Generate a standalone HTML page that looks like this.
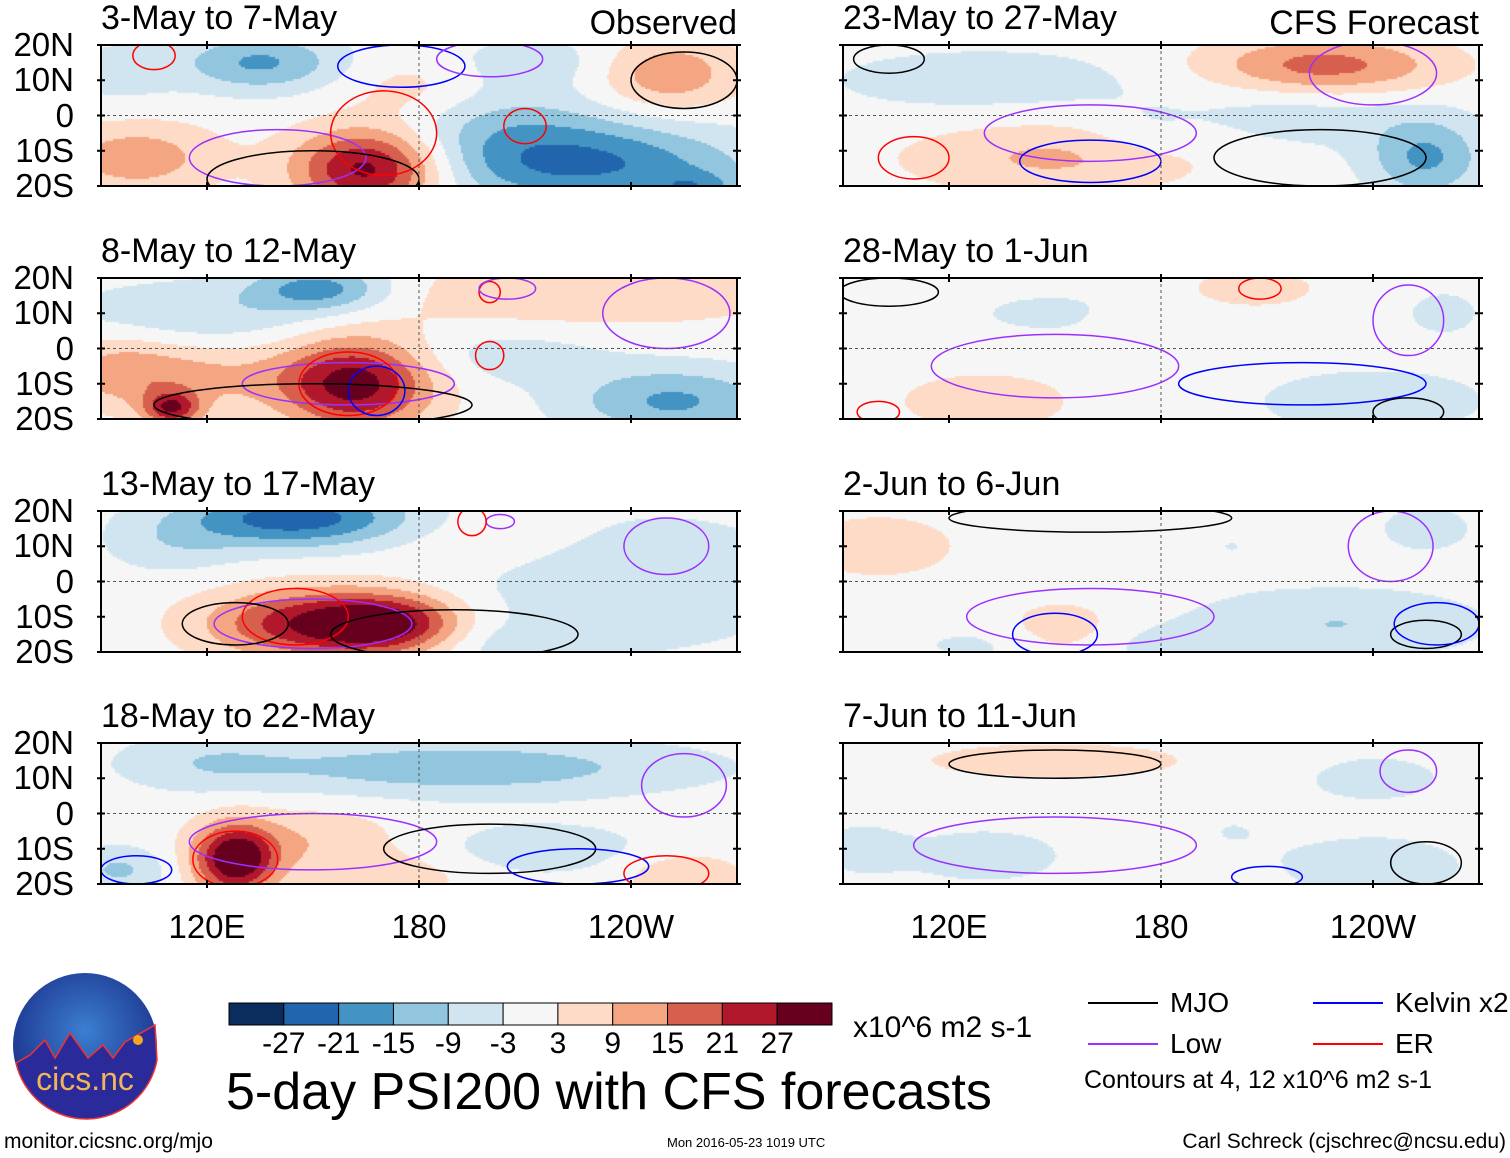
<!DOCTYPE html>
<html><head><meta charset="utf-8">
<style>
body{margin:0;background:#fff;width:1510px;height:1158px;overflow:hidden;position:relative;font-family:"Liberation Sans",sans-serif;}
.t{position:absolute;white-space:nowrap;color:#000;line-height:1;}
canvas{position:absolute;}
svg{position:absolute;left:0;top:0;}
</style></head><body>
<div id="root"></div>
<svg id="ov" width="1510" height="1158"></svg>
<script>
// ---- data ----
const levels=[-27,-21,-15,-9,-3,3,9,15,21,27];
const colors=["#0b2d5e","#2166ac","#4393c3","#92c5de","#d1e5f0","#f6f6f6","#fddbc7","#f4a582","#d6604d","#b2182b","#67001f"];
const titles=["3-May to 7-May","8-May to 12-May","13-May to 17-May","18-May to 22-May","23-May to 27-May","28-May to 1-Jun","2-Jun to 6-Jun","7-Jun to 11-Jun"];
const latTicks=["20N","10N","0","10S","20S"];
const latVals=[20,10,0,-10,-20];
const lonTicks=["120E","180","120W"];
const lonVals=[120,180,240];
// blobs: [lon, lat, amplitude, sigmaLon, sigmaLat]
const blobs0=[[166,-15,32,13,7],[100,-12,13,14,6],[135,15,-16,14,5],[225,-14,-22,28,7],[258,-21,-12,8,3],[250,12,15,12,6],[178,8,6,12,6],[215,15,-6,20,5],[205,-2,-8,20,6],[95,12,-5,10,6]];
const blobs1=[[162,-10,30,13,8],[110,-17,24,5,3],[112,-8,11,20,6],[152,17,-18,12,4],[120,10,-8,25,6],[222,15,7,40,6],[252,-15,-16,18,6],[205,-2,-6,18,5],[95,-5,6,10,6]];
const blobs2=[[145,18,-25,20,5],[150,-12,26,18,6],[172,-12,22,12,5],[240,0,-8,30,12],[200,12,4,20,6],[110,10,-6,12,5],[205,-18,-5,15,4]];
const blobs3=[[128,-13,34,7,6],[192,13,-13,40,5],[215,-10,-6,20,5],[175,-18,6,12,4],[255,-18,9,10,4],[95,-16,-10,8,4],[150,-8,8,15,6],[120,15,-6,15,5]];
const blobs4=[[226,14,18,20,5],[150,-12,10,25,6],[255,-12,-16,10,7],[130,10,-6,30,6],[220,0,-6,20,6],[175,-5,-4,10,5]];
const blobs5=[[130,-15,7,15,5],[206,17,8,10,3],[240,-15,-9,18,5],[175,5,4,8,5],[150,10,-4,20,5],[260,10,-4,10,6]];
const blobs6=[[100,10,6,15,6],[152,-15,10,10,5],[230,-12,-9,25,6],[150,-18,-6,25,4],[200,10,-3,10,5],[255,15,-5,10,5]];
const blobs7=[[150,15,5,30,4],[130,-12,-6,15,5],[240,-15,-8,15,5],[240,10,-5,15,5],[200,-5,-3,10,5],[95,-10,-5,8,5]];
// contours: [lon, lat, radiusLon, radiusLat, color]
const cont0=[[140,-12,25,8,"#9b30ff"],[170,-5,15,12,"#f00"],[210,-3,6,5,"#f00"],[175,14,18,6,"#00f"],[200,16,15,5,"#9b30ff"],[255,10,15,8,"#000"],[150,-18,30,8,"#000"],[105,17,6,4,"#f00"]];
const cont1=[[160,-10,30,6,"#9b30ff"],[160,-10,14,9,"#f00"],[168,-12,8,7,"#00f"],[200,-2,4,4,"#f00"],[200,16,3,3,"#f00"],[205,17,8,3,"#9b30ff"],[250,10,18,10,"#9b30ff"],[150,-16,45,6,"#000"]];
const cont2=[[150,-12,28,7,"#9b30ff"],[145,-10,15,8,"#f00"],[190,-15,35,7,"#000"],[203,17,4,2,"#9b30ff"],[195,17,4,4,"#f00"],[250,10,12,8,"#9b30ff"],[128,-12,15,6,"#000"]];
const cont3=[[128,-13,12,8,"#f00"],[150,-8,35,8,"#9b30ff"],[200,-10,30,7,"#000"],[225,-15,20,5,"#00f"],[250,-17,12,5,"#f00"],[100,-16,10,4,"#00f"],[255,8,12,9,"#9b30ff"]];
const cont4=[[160,-5,30,8,"#9b30ff"],[225,-12,30,8,"#000"],[160,-13,20,6,"#00f"],[240,12,18,9,"#9b30ff"],[110,-12,10,6,"#f00"],[103,16,10,4,"#000"]];
const cont5=[[150,-5,35,9,"#9b30ff"],[220,-10,35,6,"#00f"],[103,16,14,4,"#000"],[208,17,6,3,"#f00"],[250,8,10,10,"#9b30ff"],[250,-18,10,4,"#000"],[100,-18,6,3,"#f00"]];
const cont6=[[160,-10,35,8,"#9b30ff"],[150,-15,12,6,"#00f"],[160,18,40,4,"#000"],[255,-15,10,4,"#000"],[258,-12,12,6,"#00f"],[245,10,12,10,"#9b30ff"]];
const cont7=[[150,-9,40,8,"#9b30ff"],[150,14,30,4,"#000"],[255,-14,10,6,"#000"],[250,12,8,6,"#9b30ff"],[210,-18,10,3,"#00f"]];
const allBlobs=[blobs0,blobs1,blobs2,blobs3,blobs4,blobs5,blobs6,blobs7];
const allCont=[cont0,cont1,cont2,cont3,cont4,cont5,cont6,cont7];
// ---- layout ----
const PW=636,PH=141,LON0=90,LON1=270,SPREAD=1.15;
const xs=[101,843], ys=[45,278,511,743];
const NS="http://www.w3.org/2000/svg";
const ov=document.getElementById('ov');
const root=document.getElementById('root');
function sx(lon,x0){return x0+(lon-LON0)/(LON1-LON0)*PW;}
function sy(lat,y0){return y0+(20-lat)/40*PH;}
function colorFor(v){let i=0;while(i<levels.length&&v>levels[i])i++;return colors[i];}
function el(tag,attrs){const e=document.createElementNS(NS,tag);for(const k in attrs)e.setAttribute(k,attrs[k]);ov.appendChild(e);return e;}
function txt(s,x,y,size,name,align){const d=document.createElement('div');d.className='t';d.textContent=s;d.style.fontSize=size+'px';d.style.top=y+'px';
 if(align==='r'){d.style.right=(1510-x)+'px';}else if(align==='c'){d.style.left=x+'px';d.style.transform='translateX(-50%)';}else d.style.left=x+'px';
 
 
 root.appendChild(d);return d;}
for(let p=0;p<8;p++){
 const col=p<4?0:1,row=p%4,x0=xs[col],y0=ys[row];
 const cv=document.createElement('canvas');cv.width=PW;cv.height=PH;cv.style.left=x0+'px';cv.style.top=y0+'px';
 
 
 document.body.insertBefore(cv,ov);
 const ctx=cv.getContext('2d');const B=allBlobs[p];
 for(let py=0;py<PH;py+=2)for(let px=0;px<PW;px+=2){
  const lon=LON0+(px+1)/PW*(LON1-LON0),lat=20-(py+1)/PH*40;let v=0;
  for(const b of B){const dx=(lon-b[0])/(b[3]*SPREAD),dy=(lat-b[1])/(b[4]*SPREAD);v+=b[2]*Math.exp(-0.5*(dx*dx+dy*dy));}
  ctx.fillStyle=colorFor(v);ctx.fillRect(px,py,2,2);}
 for(const c of allCont[p]){
  const e=el('ellipse',{cx:sx(c[0],x0),cy:sy(c[1],y0),rx:c[2]/(LON1-LON0)*PW,ry:c[3]/40*PH,fill:'none',stroke:c[4],'stroke-width':1.5,'clip-path':'url(#cp'+p+')'});
  
  
 }
 const cp=el('clipPath',{id:'cp'+p});const r=document.createElementNS(NS,'rect');r.setAttribute('x',x0);r.setAttribute('y',y0);r.setAttribute('width',PW);r.setAttribute('height',PH);cp.appendChild(r);
 el('line',{x1:x0,x2:x0+PW,y1:sy(0,y0),y2:sy(0,y0),stroke:'#555','stroke-dasharray':'3,3','stroke-width':1});
 el('line',{x1:sx(180,x0),x2:sx(180,x0),y1:y0,y2:y0+PH,stroke:'#555','stroke-dasharray':'3,3','stroke-width':1});
 const fr=el('rect',{x:x0,y:y0,width:PW,height:PH,fill:'none',stroke:'#000','stroke-width':2});
 
 
 for(const lv of lonVals){const X=sx(lv,x0);el('line',{x1:X,x2:X,y1:y0-4,y2:y0+4,stroke:'#000','stroke-width':2});el('line',{x1:X,x2:X,y1:y0+PH-4,y2:y0+PH+4,stroke:'#000','stroke-width':2});}
 for(const lt of latVals){const Y=sy(lt,y0);el('line',{x1:x0-4,x2:x0+4,y1:Y,y2:Y,stroke:'#000','stroke-width':2});el('line',{x1:x0+PW-4,x2:x0+PW+4,y1:Y,y2:Y,stroke:'#000','stroke-width':2});}
 txt(titles[p],x0,y0-44,34,'panel-title-'+(p+1));
 if(col===0){latTicks.forEach((s,i)=>txt(s,74,sy(latVals[i],y0)-17,33,'lat-label','r'));}
}
txt('Observed',737,6,34,'observed-label','r');
txt('CFS Forecast',1479,6,34,'cfs-forecast-label','r');
[101,843].forEach(x0=>lonTicks.forEach((s,i)=>txt(s,sx(lonVals[i],x0),910,33,'lon-label','c')));
const cbx=229,cbw=603,cby=1003,cbh=22;
colors.forEach((c,i)=>{const w=cbw/colors.length;const r=el('rect',{x:cbx+i*w,y:cby,width:w,height:cbh,fill:c,stroke:'#000','stroke-width':1});
 
 });
levels.forEach((v,i)=>txt(String(v),cbx+(i+1)*cbw/colors.length,1029,30,'colorbar-tick','c'));
txt('x10^6 m2 s-1',853,1013,30,'units-label');
txt('5-day PSI200 with CFS forecasts',226,1066,52,'main-title');
const leg=[["MJO","#000",1088,1003],["Kelvin x2","#00f",1313,1003],["Low","#9b30ff",1088,1044],["ER","#f00",1313,1044]];
leg.forEach(l=>{const ln=el('line',{x1:l[2],x2:l[2]+70,y1:l[3],y2:l[3],stroke:l[1],'stroke-width':2});
 
 
 txt(l[0],l[2]+82,l[3]-14,28,'legend-entry');});
txt('Contours at 4, 12 x10^6 m2 s-1',1084,1068,25,'contour-note');
txt('monitor.cicsnc.org/mjo',4,1131,21,'website-label');
txt('Mon 2016-05-23 1019 UTC',667,1136,13,'timestamp');
txt('Carl Schreck (cjschrec@ncsu.edu)',1506,1131,21,'author-label','r');
const g=el('radialGradient',{id:'lg',cx:'0.5',cy:'0.4',r:'0.6'});
[['0','#3b7fd0'],['1','#1a2f8a']].forEach(s=>{const st=document.createElementNS(NS,'stop');st.setAttribute('offset',s[0]);st.setAttribute('stop-color',s[1]);g.appendChild(st);});
const lc=el('circle',{cx:85,cy:1045,r:72,fill:'url(#lg)'});


el('path',{d:'M16,1063 L30,1055 L45,1040 L55,1058 L70,1033 L88,1058 L103,1045 L113,1058 L125,1042 L155,1025 L157,1060 A72,72 0 0 1 16,1063 Z',fill:'#2a2a9a',stroke:'#e33','stroke-width':1.5});
el('circle',{cx:138,cy:1040,r:5,fill:'#f5a623'});
const lt=el('text',{x:85,y:1090,'text-anchor':'middle','font-size':32,fill:'#f2b45a','font-family':'Liberation Sans, sans-serif'});lt.textContent='cics.nc';
</script>
</body></html>
